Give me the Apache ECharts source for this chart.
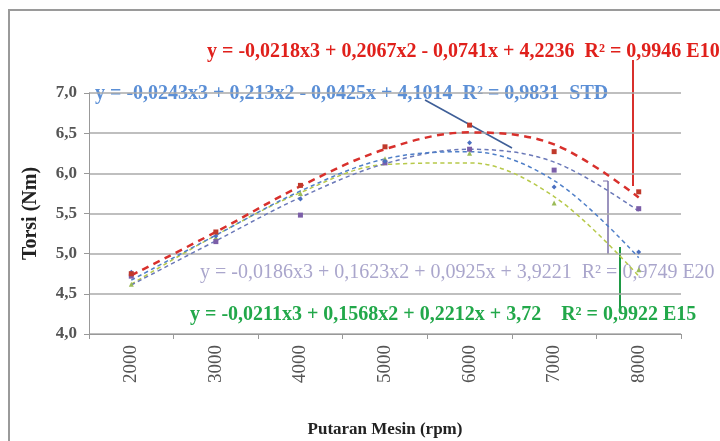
<!DOCTYPE html>
<html><head><meta charset="utf-8">
<script src="https://cdn.jsdelivr.net/npm/echarts@6/dist/echarts.min.js"></script>
<style>html,body{margin:0;padding:0;background:#fff}#c{width:720px;height:441px}</style>
</head><body><div id="c"></div>
<script>
const categories = ['2000','3000','4000','5000','6000','7000','8000'];
const yTicks = [4.0, 4.5, 5.0, 5.5, 6.0, 6.5, 7.0];
// measured points
const stdPts = [4.77, 5.22, 5.68, 6.15, 6.38, 5.83, 5.02];
const e10Pts = [4.75, 5.27, 5.85, 6.33, 6.60, 6.27, 5.77];
const e15Pts = [4.62, 5.20, 5.75, 6.18, 6.25, 5.63, 4.80];
const e20Pts = [4.72, 5.15, 5.48, 6.13, 6.30, 6.04, 5.56];
// trendline values read at each category
const stdTrend = [4.67, 5.23, 5.78, 6.18, 6.27, 5.91, 4.95];
const e10Trend = [4.73, 5.27, 5.84, 6.30, 6.51, 6.36, 5.70];
const e15Trend = [4.62, 5.23, 5.76, 6.11, 6.13, 5.71, 4.72];
const e20Trend = [4.61, 5.16, 5.70, 6.12, 6.30, 6.14, 5.53];
const labels = {
  e10: 'y = -0,0218x3 + 0,2067x2 - 0,0741x + 4,2236  R² = 0,9946 E10',
  std: 'y = -0,0243x3 + 0,213x2 - 0,0425x + 4,1014  R² = 0,9831  STD',
  e20: 'y = -0,0186x3 + 0,1623x2 + 0,0925x + 3,9221  R² = 0,9749 E20',
  e15: 'y = -0,0211x3 + 0,1568x2 + 0,2212x + 3,72    R² = 0,9922 E15'
};
const C = {std:'#4f7fc8', e10:'#d8302c', e15:'#b7c94a', e20:'#6a78b8'};
const serif = 'Liberation Serif';
function trend(name, data, color, w){
  return {name, type:'line', data, smooth:0.35, symbol:'none', z:2,
    lineStyle:{color, width:w, type:[w*2.8, w*2.2]}};
}
function pts(name, data, color, symbol){
  return {name, type:'line', data, symbol, symbolSize:5, z:3,
    lineStyle:{width:0, opacity:0}, itemStyle:{color}};
}
const chart = echarts.init(document.getElementById('c'), null, {renderer:'canvas'});
chart.setOption({
  animation:false,
  grid:{left:89, right:39, top:93, bottom:107, containLabel:false, outerBoundsMode:'none'},
  xAxis:{type:'category', data:categories, boundaryGap:true,
    name:'Putaran Mesin (rpm)', nameLocation:'middle', nameGap:87,
    nameTextStyle:{fontFamily:serif, fontWeight:'bold', fontSize:17, color:'#222'},
    axisLine:{lineStyle:{color:'#999', width:1}},
    axisTick:{show:true, length:5, lineStyle:{color:'#999'}},
    axisLabel:{rotate:90, fontFamily:serif, fontSize:19, color:'#555', margin:11}},
  yAxis:{type:'value', min:4, max:7, interval:0.5,
    name:'Torsi (Nm)', nameLocation:'middle', nameGap:48,
    nameTextStyle:{fontFamily:serif, fontWeight:'bold', fontSize:20, color:'#222'},
    axisLine:{show:true, lineStyle:{color:'#999'}},
    axisTick:{show:true, length:5, lineStyle:{color:'#999'}},
    splitLine:{lineStyle:{color:'#aaa', width:1.5}},
    axisLabel:{fontFamily:serif, fontSize:17, fontWeight:'bold', color:'#555', margin:12,
      formatter:v=>v.toFixed(1).replace('.',',')}},
  series:[
    trend('E15 trend', e15Trend, C.e15, 1.5),
    trend('E20 trend', e20Trend, C.e20, 1.5),
    trend('STD trend', stdTrend, C.std, 1.5),
    trend('E10 trend', e10Trend, C.e10, 2.5),
    pts('E15', e15Pts, '#9bbb59', 'triangle'),
    pts('E20', e20Pts, '#7b5ea8', 'rect'),
    pts('STD', stdPts, '#4a6fc0', 'diamond'),
    pts('E10', e10Pts, '#c0392b', 'rect')
  ],
  graphic:[
    {type:'rect', shape:{x:9, y:10, width:720, height:440}, style:{fill:'none', stroke:'#9a9a9a', lineWidth:2}, silent:true},
    {type:'line', shape:{x1:633,y1:60,x2:633,y2:186}, style:{stroke:'#d8302c', lineWidth:2}},
    {type:'line', shape:{x1:425,y1:100,x2:512,y2:148}, style:{stroke:'#3f5f98', lineWidth:1.5}},
    {type:'line', shape:{x1:608,y1:181,x2:608,y2:254}, style:{stroke:'#7a6fa8', lineWidth:1.5}},
    {type:'line', shape:{x1:603,y1:181,x2:608,y2:181}, style:{stroke:'#7a6fa8', lineWidth:1}},
    {type:'line', shape:{x1:620,y1:247,x2:620,y2:312}, style:{stroke:'#1f9a45', lineWidth:2}},
    {type:'text', x:207, y:52, style:{text:labels.e10, font:'bold 20px "Liberation Serif"', fill:'#e0201b', textVerticalAlign:'middle'}},
    {type:'text', x:95, y:94, style:{text:labels.std, font:'bold 20px "Liberation Serif"', fill:'#5b8fd6', textVerticalAlign:'middle'}},
    {type:'text', x:200, y:273, style:{text:labels.e20, font:'20px "Liberation Serif"', fill:'#aaa6cc', textVerticalAlign:'middle'}},
    {type:'text', x:190, y:315, style:{text:labels.e15, font:'bold 20px "Liberation Serif"', fill:'#22a84a', textVerticalAlign:'middle'}}
  ]
});
</script></body></html>
